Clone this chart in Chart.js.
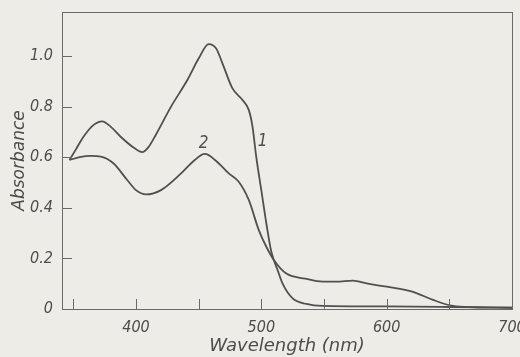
<!DOCTYPE html>
<html>
<head>
<meta charset="utf-8">
<script src="https://cdn.jsdelivr.net/npm/chart.js@4"></script>
<style>
  html, body { margin: 0; padding: 0; background: #edece7; }
  #wrap { width: 520px; height: 357px; }
</style>
</head>
<body>
<div id="wrap"><canvas id="chart" width="520" height="357"></canvas></div>
<script>
// ── Data ──────────────────────────────────────────────────────────────────────
const xTicks = [350, 400, 450, 500, 550, 600, 650, 700];
const xLabelled = [400, 500, 600, 700];
const yTicks = [0, 0.2, 0.4, 0.6, 0.8, 1.0];

const wl1 = [347, 352, 358, 366, 373, 380, 388, 399, 405, 410, 416, 428, 441, 450, 458, 464, 469, 477, 485, 490, 493, 496, 500, 504, 508, 513, 517, 525, 536, 549, 600, 650, 700];
const abs1 = [0.589, 0.63, 0.68, 0.727, 0.742, 0.72, 0.68, 0.635, 0.62, 0.64, 0.69, 0.80, 0.905, 0.99, 1.047, 1.03, 0.971, 0.872, 0.826, 0.787, 0.72, 0.60, 0.47, 0.339, 0.226, 0.154, 0.10, 0.042, 0.02, 0.012, 0.01, 0.008, 0.005];

const wl2 = [347, 355, 364, 372, 382, 393, 400, 408, 420, 436, 446, 455, 464, 474, 482, 490, 498, 504, 510, 520, 535, 549, 560, 573, 585, 600, 621, 637, 653, 670, 700];
const abs2 = [0.589, 0.60, 0.605, 0.602, 0.576, 0.51, 0.47, 0.453, 0.47, 0.536, 0.585, 0.613, 0.585, 0.536, 0.503, 0.431, 0.312, 0.246, 0.194, 0.14, 0.12, 0.108, 0.108, 0.112, 0.10, 0.088, 0.068, 0.036, 0.012, 0.007, 0.005];

// curve numbers, placed in data coordinates
const curveTags = [
  { text: '1', x: 501, y: 0.66 },
  { text: '2', x: 454, y: 0.655 },
];

// ── Style ─────────────────────────────────────────────────────────────────────
const INK = '#4d4d4d';
const LINE = '#505050';
const NARROW = "'DejaVu Sans Condensed', 'DejaVu Sans', sans-serif";
const WIDE = "'DejaVu Sans', sans-serif";

const toPts = (xs, ys) => xs.map((x, i) => ({ x, y: ys[i] }));

// inside tick marks + frame + curve numbers
const decor = {
  id: 'decor',
  afterDraw(chart) {
    const { ctx, chartArea: a, scales: { x, y } } = chart;
    ctx.save();
    ctx.strokeStyle = '#6a6a6a';
    ctx.lineWidth = 1;
    ctx.strokeRect(a.left + 0.5, a.top + 0.5, a.right - a.left, a.bottom - a.top);
    ctx.beginPath();
    xTicks.forEach(v => {
      const px = Math.round(x.getPixelForValue(v)) + 0.5;
      ctx.moveTo(px, a.bottom);
      ctx.lineTo(px, a.bottom - 10);
    });
    yTicks.forEach(v => {
      const py = Math.round(y.getPixelForValue(v)) + 0.5;
      ctx.moveTo(a.left, py);
      ctx.lineTo(a.left + 10, py);
    });
    ctx.stroke();
    ctx.fillStyle = INK;
    ctx.font = 'italic 17px ' + NARROW;
    ctx.textAlign = 'center';
    ctx.textBaseline = 'middle';
    curveTags.forEach(t => ctx.fillText(t.text, x.getPixelForValue(t.x), y.getPixelForValue(t.y)));
    ctx.restore();
  },
};

new Chart(document.getElementById('chart'), {
  type: 'line',
  data: {
    datasets: [
      { label: '1', data: toPts(wl1, abs1) },
      { label: '2', data: toPts(wl2, abs2) },
    ],
  },
  options: {
    responsive: false,
    animation: false,
    layout: { padding: { top: 12, right: 8, left: 0, bottom: 0 } },
    elements: {
      line: { borderColor: LINE, borderWidth: 1.8, cubicInterpolationMode: 'monotone', fill: false },
      point: { radius: 0 },
    },
    plugins: { legend: { display: false }, tooltip: { enabled: false } },
    scales: {
      x: {
        type: 'linear',
        min: 341,
        max: 700,
        afterBuildTicks: s => { s.ticks = xTicks.map(value => ({ value })); },
        afterFit: s => { s.height = 48; s.paddingLeft = 0; s.paddingRight = 0; },
        grid: { display: false, drawTicks: false },
        border: { display: false },
        ticks: {
          color: INK,
          padding: 9,
          maxRotation: 0,
          autoSkip: false,
          font: { family: NARROW, size: 16, style: 'italic' },
          callback: v => (xLabelled.includes(v) ? String(v) : ''),
        },
        title: {
          display: true,
          text: 'Wavelength (nm)',
          color: INK,
          padding: { top: 0, bottom: 0 },
          font: { family: WIDE, size: 18, style: 'italic' },
        },
      },
      y: {
        min: 0,
        max: 1.174,
        afterBuildTicks: s => { s.ticks = yTicks.map(value => ({ value })); },
        afterFit: s => { s.width = 62; s.paddingTop = 0; s.paddingBottom = 0; },
        grid: { display: false, drawTicks: false },
        border: { display: false },
        ticks: {
          color: INK,
          padding: 9,
          font: { family: NARROW, size: 16, style: 'italic' },
          callback: v => (v === 0 ? '0' : v.toFixed(1)),
        },
        title: {
          display: true,
          text: 'Absorbance',
          color: INK,
          padding: { top: 9, bottom: 0 },
          font: { family: WIDE, size: 17, style: 'italic' },
        },
      },
    },
  },
  plugins: [decor],
});
</script>
</body>
</html>
